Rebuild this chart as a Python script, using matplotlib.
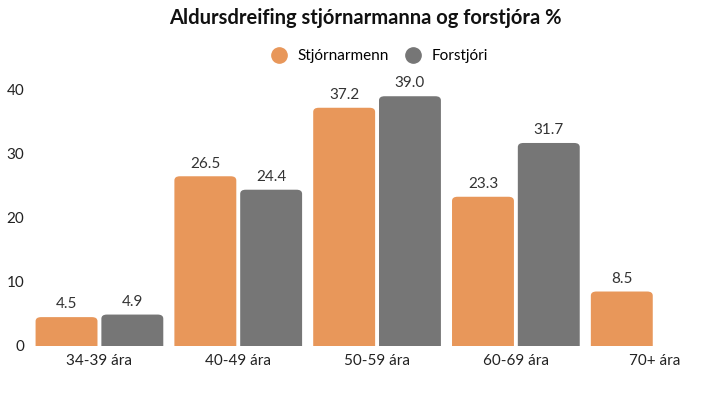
import matplotlib
matplotlib.use('Agg')
import matplotlib.pyplot as plt
from matplotlib.patches import FancyBboxPatch
from matplotlib.lines import Line2D
import numpy as np

categories = ['34-39 ára', '40-49 ára', '50-59 ára', '60-69 ára', '70+ ára']
stjornarmenn = [4.5, 26.5, 37.2, 23.3, 8.5]
forstjori = [4.9, 24.4, 39.0, 31.7, None]

orange = '#E8975A'
gray = '#767676'

plt.rcParams['font.family'] = ['Lato', 'DejaVu Sans']

fig = plt.figure(figsize=(7.13, 3.94), dpi=100)
ax = fig.add_axes([0.046, 0.122, 0.954, 0.65])

x = np.arange(len(categories))
w = 0.446
off = 0.237


def draw_bars(xs, vals, color):
    bars = ax.bar(xs, vals, width=w, color=color)
    for b, v in zip(bars, vals):
        b.set_visible(False)
        r = FancyBboxPatch((b.get_x(), -1.5), b.get_width(), v + 1.5,
                           boxstyle='round,pad=0,rounding_size=0.04',
                           mutation_aspect=16, fc=color, ec='none')
        ax.add_patch(r)
        ax.text(b.get_x() + b.get_width() / 2, v + 0.9, f'{v:.1f}',
                ha='center', va='bottom', fontsize=11, color='#333333', clip_on=False)


draw_bars(x - off, stjornarmenn, orange)
fx = [i for i, v in zip(x, forstjori) if v is not None]
fv = [v for v in forstjori if v is not None]
draw_bars(np.array(fx) + off, fv, gray)

ax.set_xlim(-0.48, 4.42)
ax.set_ylim(0, 40)
ax.set_yticks([0, 10, 20, 30, 40])
ax.set_xticks(x)
ax.set_xticklabels(categories)
ax.tick_params(length=0, labelsize=11, colors='#222222')
ax.tick_params(axis='y', pad=6)
ax.tick_params(axis='x', pad=6)
for s in ax.spines.values():
    s.set_visible(False)

fig.text(0.512, 0.955, 'Aldursdreifing stjórnarmanna og forstjóra %', ha='center',
         va='center', fontsize=14.5, fontweight='bold', color='#111111')

handles = [Line2D([], [], marker='o', ls='', ms=11, color=orange, label='Stjórnarmenn'),
           Line2D([], [], marker='o', ls='', ms=11, color=gray, label='Forstjóri')]
fig.legend(handles=handles, loc='center', bbox_to_anchor=(0.527, 0.858), ncol=2,
           frameon=False, fontsize=11, handletextpad=0.2, columnspacing=0.6)

fig.savefig('out.png', dpi=100)
